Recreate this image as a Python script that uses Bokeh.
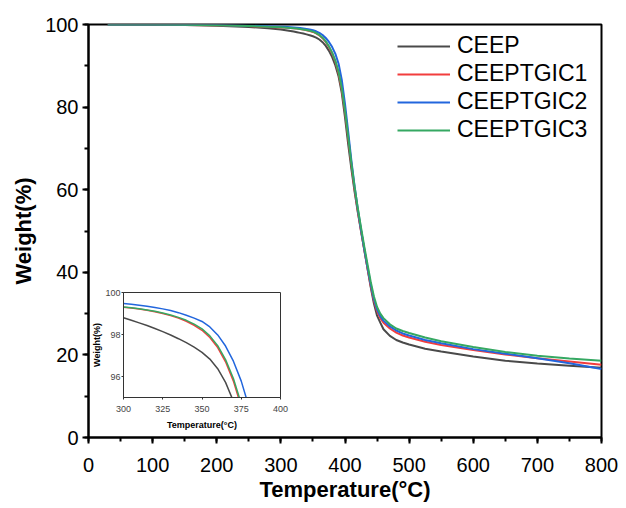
from bokeh.plotting import figure
from bokeh.models import Range1d, SingleIntervalTicker, FixedTicker, Legend, LegendItem
from bokeh.layouts import column
from bokeh.embed import file_html
from bokeh.resources import INLINE

# ---------------- data ----------------
temp = [30, 100, 150, 200, 250, 280,
        300, 305, 310, 315, 320, 325, 330, 335, 340, 345, 350, 355, 360, 365,
        370, 375, 380, 385, 390, 395, 400, 405, 410, 415, 420, 425, 430, 435, 440,
        445, 450, 455, 460, 470, 480, 490, 500, 525, 550, 600, 650, 700, 750, 800]

ceep = [100, 99.95, 99.85, 99.7, 99.4, 99.1,
        98.8, 98.68, 98.555, 98.425, 98.285, 98.135, 97.975, 97.8, 97.61, 97.395, 97.15, 96.83, 96.37, 95.72,
        94.82, 93.62, 92.1, 90.1, 87.4, 83.4, 77.5, 71.0, 65.0, 59.5, 54.5, 50.0, 45.5, 41.0, 36.5,
        32.5, 29.5, 27.8, 26.2, 24.6, 23.6, 23.0, 22.5, 21.5, 20.8, 19.6, 18.6, 17.9, 17.4, 16.9]

ceeptgic1 = [100, 99.97, 99.9, 99.8, 99.62, 99.42,
             99.3, 99.26, 99.21, 99.155, 99.085, 99.0, 98.9, 98.78, 98.63, 98.44, 98.2, 97.86, 97.38, 96.7,
             95.78, 94.56, 93.0, 91.0, 88.2, 84.2, 78.9, 72.5, 66.0, 60.0, 54.8, 50.0, 45.5, 41.0, 36.8,
             33.2, 30.6, 28.9, 27.8, 26.4, 25.4, 24.7, 24.2, 23.2, 22.4, 21.2, 20.1, 19.2, 18.4, 17.6]

ceeptgic2 = [100, 99.98, 99.95, 99.87, 99.72, 99.57,
             99.48, 99.44, 99.395, 99.345, 99.285, 99.22, 99.14, 99.04, 98.92, 98.78, 98.62, 98.36, 97.98, 97.45,
             96.73, 95.78, 94.53, 92.9, 90.5, 86.6, 80.8, 74.0, 67.0, 60.8, 55.3, 50.3, 45.7, 41.3, 37.2,
             33.6, 31.0, 29.4, 28.3, 26.9, 25.9, 25.2, 24.7, 23.6, 22.8, 21.4, 20.3, 19.2, 18.0, 16.6]

ceeptgic3 = [100, 99.97, 99.92, 99.82, 99.63, 99.43,
             99.31, 99.27, 99.225, 99.17, 99.105, 99.025, 98.93, 98.815, 98.675, 98.495, 98.265, 97.935, 97.465, 96.805,
             95.905, 94.705, 93.2, 91.2, 88.5, 84.6, 79.2, 72.8, 66.4, 60.6, 55.5, 50.8, 46.3, 42.0, 37.8,
             34.2, 31.6, 30.0, 28.9, 27.4, 26.4, 25.8, 25.3, 24.2, 23.3, 21.9, 20.7, 19.8, 19.1, 18.6]

series_names = ["CEEP", "CEEPTGIC1", "CEEPTGIC2", "CEEPTGIC3"]
series_values = [ceep, ceeptgic1, ceeptgic2, ceeptgic3]
series_colors = ["#4a4a4a", "#f23d3d", "#2266dd", "#35a862"]

FONT = "Liberation Sans"

# ---------------- main plot ----------------
p = figure(width=626, height=508, output_backend="svg", toolbar_location=None,
           x_range=Range1d(0, 800), y_range=Range1d(0, 100),
           min_border_left=88, min_border_right=25, min_border_top=24, min_border_bottom=71)
p.background_fill_color = "white"
p.border_fill_color = "white"
p.grid.visible = False
p.outline_line_color = "black"
p.outline_line_width = 2
p.outline_line_alpha = 1

items = []
for name, vals, col in zip(series_names, series_values, series_colors):
    r = p.line(temp, vals, line_color=col, line_width=2)
    items.append(LegendItem(label=name, renderers=[r]))

p.xaxis.ticker = SingleIntervalTicker(interval=100, num_minor_ticks=2)
p.yaxis.ticker = SingleIntervalTicker(interval=20, num_minor_ticks=2)
for ax in (p.xaxis[0], p.yaxis[0]):
    ax.axis_line_color = "black"
    ax.axis_line_width = 2
    ax.major_tick_line_color = "black"
    ax.major_tick_line_width = 2
    ax.minor_tick_line_color = "black"
    ax.minor_tick_line_width = 2
    ax.major_tick_in = 0
    ax.major_tick_out = 6
    ax.minor_tick_in = 0
    ax.minor_tick_out = 4
    ax.major_label_text_font = FONT
    ax.major_label_text_font_size = "20px"
    ax.major_label_text_color = "black"
    ax.axis_label_text_font = FONT
    ax.axis_label_text_font_size = "22px"
    ax.axis_label_text_font_style = "bold"
    ax.axis_label_text_color = "black"
p.xaxis.axis_label = "Temperature(°C)"
p.yaxis.axis_label = "Weight(%)"
p.xaxis.major_label_standoff = 14
p.xaxis.axis_label_standoff = 2
p.yaxis.major_label_standoff = 4
p.yaxis.axis_label_standoff = 6

legend = Legend(items=items, location=(309, 294))
legend.border_line_color = None
legend.background_fill_alpha = 0
legend.label_text_font = FONT
legend.label_text_font_size = "23px"
legend.label_text_color = "black"
legend.glyph_width = 53
legend.glyph_height = 26
legend.label_height = 26
legend.label_standoff = 7
legend.spacing = 1
legend.padding = 0
legend.margin = 0
p.add_layout(legend)

# ---------------- inset ----------------
# In a column Bokeh aligns the frames' side borders, so the inset gets the
# main plot's left (88) and right (25) borders; shift it with a left margin.
INSET_TOP = 278
INSET_SHIFT = 35
inset = figure(width=270, height=154, output_backend="svg", toolbar_location=None,
               x_range=Range1d(300, 400), y_range=Range1d(95, 100),
               min_border_left=88, min_border_right=25, min_border_top=14, min_border_bottom=34)
inset.background_fill_color = "white"
inset.border_fill_alpha = 0
inset.grid.visible = False
inset.outline_line_color = "#333333"
inset.outline_line_width = 1
for name, vals, col in zip(series_names, series_values, series_colors):
    inset.line(temp, vals, line_color=col, line_width=1.5)
inset.xaxis.ticker = FixedTicker(ticks=[300, 325, 350, 375, 400])
inset.yaxis.ticker = FixedTicker(ticks=[96, 98, 100])
for ax in (inset.xaxis[0], inset.yaxis[0]):
    ax.axis_line_color = "#333333"
    ax.major_tick_line_color = "#333333"
    ax.major_tick_in = 0
    ax.major_tick_out = 2
    ax.minor_tick_line_color = None
    ax.major_label_text_font = FONT
    ax.major_label_text_font_size = "9px"
    ax.major_label_text_color = "#444444"
    ax.axis_label_text_font = FONT
    ax.axis_label_text_font_size = "9px"
    ax.axis_label_text_font_style = "bold"
    ax.axis_label_text_color = "black"
inset.xaxis.axis_label = "Temperature(°C)"
inset.yaxis.axis_label = "Weight(%)"
inset.xaxis.major_label_standoff = 6
inset.xaxis.axis_label_standoff = 5
inset.yaxis.major_label_standoff = 1
inset.yaxis.axis_label_standoff = 0
inset.margin = (-(508 - INSET_TOP), 0, 0, INSET_SHIFT)

layout = column(p, inset, spacing=0)
open("out.html", "w").write(file_html(layout, INLINE))
